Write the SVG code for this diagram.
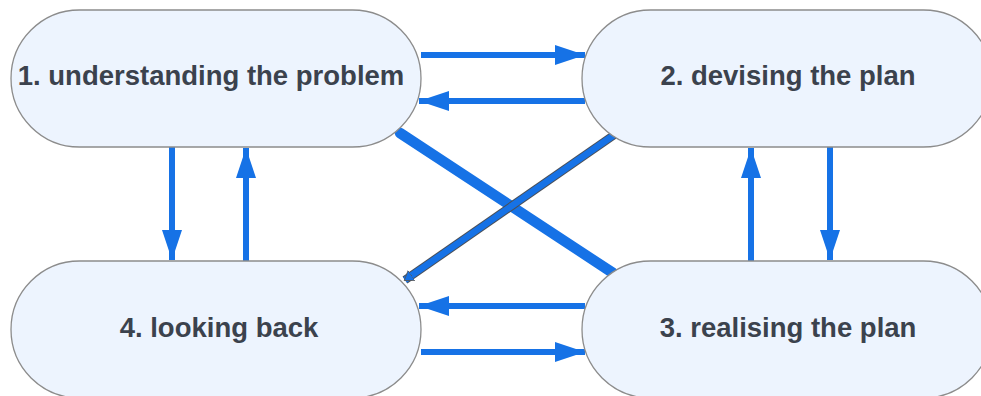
<svg xmlns="http://www.w3.org/2000/svg" width="981" height="396" viewBox="0 0 981 396">
<defs>
<style>
.node{fill:#edf4fe;stroke:#8c8c8c;stroke-width:1.3}
.lbl{font-family:"Liberation Sans",Arial,sans-serif;font-weight:bold;font-size:27.5px;fill:#3b424d;text-anchor:middle}
.arr{stroke:#1672e6;stroke-width:6;fill:none;marker-end:url(#ah)}
</style>
<marker id="ah" markerUnits="userSpaceOnUse" markerWidth="32" markerHeight="22" refX="30" refY="10" orient="auto">
<path d="M0,0 L30,10 L0,20 Z" fill="#1672e6"/>
</marker>
<marker id="sm" markerUnits="userSpaceOnUse" markerWidth="14" markerHeight="14" refX="8" refY="6" orient="auto">
<path d="M0,0 L9,6 L0,12 Z" fill="#1672e6" stroke="#555" stroke-width="0.8"/>
</marker>
</defs>
<rect width="981" height="396" fill="#ffffff"/>
<g id="connectors">
<line class="arr" x1="421" y1="55" x2="585" y2="55"/>
<line class="arr" x1="585" y1="101" x2="419" y2="101"/>
<line class="arr" x1="585" y1="306" x2="419" y2="306"/>
<line class="arr" x1="421" y1="352" x2="585" y2="352"/>
<line class="arr" x1="172" y1="147" x2="172" y2="260"/>
<line class="arr" x1="246" y1="261" x2="246" y2="148"/>
<line class="arr" x1="751" y1="261" x2="751" y2="148"/>
<line class="arr" x1="830" y1="147" x2="830" y2="260"/>
<line x1="400" y1="133" x2="613" y2="273" stroke="#1672e6" stroke-width="10.5" stroke-linecap="round"/>
<line x1="614" y1="135" x2="405" y2="280" stroke="#4a4f57" stroke-width="8.5"/>
<line x1="614" y1="135" x2="405" y2="280" stroke="#1672e6" stroke-width="6.5" marker-start="url(#sm)" marker-end="url(#sm)"/>
</g>
<g id="node1">
<rect class="node" x="11" y="10" width="410" height="137" rx="68.5"/>
<text class="lbl" x="211" y="85">1. understanding the problem</text>
</g>
<g id="node2">
<rect class="node" x="582" y="10" width="410" height="137" rx="68.5"/>
<text class="lbl" x="788" y="85">2. devising the plan</text>
</g>
<g id="node3">
<rect class="node" x="582" y="261" width="410" height="137" rx="68.5"/>
<text class="lbl" x="788" y="337">3. realising the plan</text>
</g>
<g id="node4">
<rect class="node" x="11" y="261" width="410" height="137" rx="68.5"/>
<text class="lbl" x="219" y="337">4. looking back</text>
</g>
</svg>
